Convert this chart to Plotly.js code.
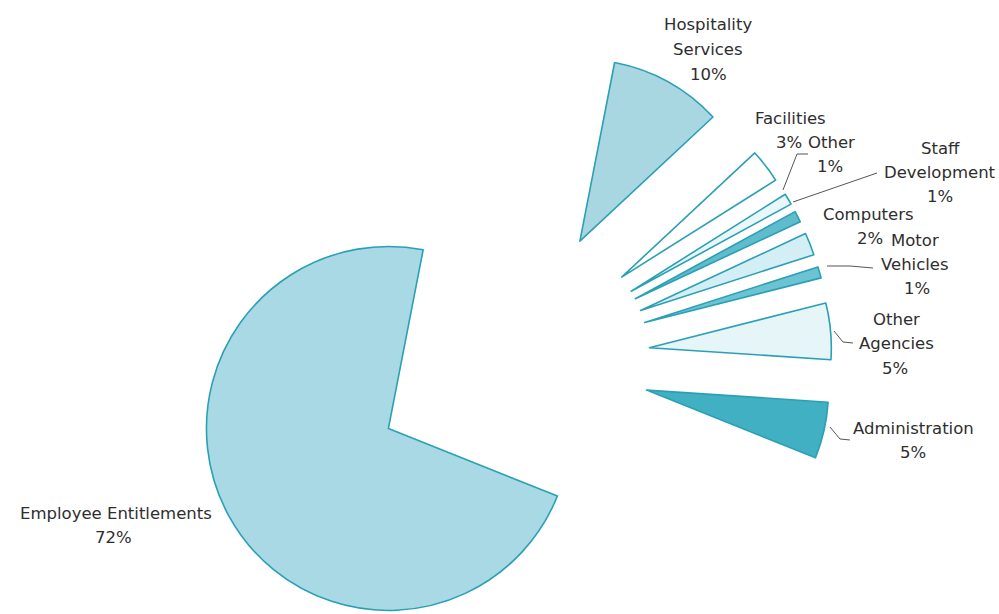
<!DOCTYPE html>
<html>
<head>
<meta charset="utf-8">
<script src="https://cdn.plot.ly/plotly-3.0.1.min.js"></script>
<style>
  html, body { margin: 0; padding: 0; background: #ffffff; overflow: hidden; }
  #frame { position: relative; width: 999px; height: 614px; overflow: hidden; background: #ffffff; }
  #chart { position: absolute; left: 0; top: 0; width: 999px; height: 700px; }
</style>
</head>
<body>
<div id="frame"><div id="chart"></div></div>
<script>
// ---- data (clockwise order, starting at Hospitality Services) ----
const categories = ['Hospitality Services', 'Facilities', 'Other', 'Staff Development',
                    'Computers', 'Motor Vehicles', 'Other Agencies', 'Administration',
                    'Employee Entitlements'];
const shares = [10, 3, 1, 1, 2, 1, 5, 5, 72];
const labelNames = [['Hospitality', 'Services'], ['Facilities'], ['Other'], ['Staff', 'Development'],
                    ['Computers'], ['Motor', 'Vehicles'], ['Other', 'Agencies'], ['Administration'],
                    ['Employee Entitlements']];

// ---- styles & positions ----
const sliceColors = ['#a9d7e1', '#ffffff', '#eaf7fa', '#5fbccc', '#d3eef4', '#6cc3d3',
                     '#e5f5f8', '#41b0c3', '#a8d9e5'];
const slicePull = [0.747, 0.747, 0.747, 0.747, 0.747, 0.747, 0.747, 0.747, 0.786];
const FIG_W = 999, FIG_H = 700;
const center = [514, 360], half = 325;            // pixel centre and half-size of pie box
// first line centre of each label (pixels), line step
const labelPos = [[708, 25], [790, 118], [831, 142], [940, 148], [868, 214], [915, 240],
                  [896, 319], [913, 428], [116, 513]];
const pctOffsetX = [0, -1, -1, 0, 2, 2, -1, 0, -3];
const lineStep = 24.5;

const px = x => x / FIG_W;
const py = y => 1 - y / FIG_H;

const annotations = [];
categories.forEach((c, i) => {
  const lines = labelNames[i].concat([shares[i] + '%']);
  lines.forEach((t, j) => {
    const isPct = j === lines.length - 1;
    annotations.push({
      xref: 'paper', yref: 'paper',
      x: px(labelPos[i][0] + (isPct ? pctOffsetX[i] : 0)),
      y: py(labelPos[i][1] + j * lineStep),
      text: t, showarrow: false, xanchor: 'center', yanchor: 'middle',
      font: {family: 'DejaVu Sans, Arial, sans-serif', size: 16.5, color: '#2e2e2e'}
    });
  });
});

// leader lines (pixel polylines)
const leaders = [
  [[808, 154], [797, 154], [783, 190]],
  [[877, 173], [793, 202]],
  [[873, 268], [850, 266], [827, 266]],
  [[853, 343], [843, 342], [834, 331]],
  [[850, 440], [840, 439], [830, 427]]
];
const shapes = leaders.map(pts => ({
  type: 'path', xref: 'paper', yref: 'paper',
  path: pts.map((p, k) => (k ? 'L' : 'M') + px(p[0]).toFixed(5) + ',' + py(p[1]).toFixed(5)).join(' '),
  line: {color: '#555555', width: 1}
}));

const trace = {
  type: 'pie',
  labels: categories,
  values: shares,
  sort: false,
  direction: 'clockwise',
  rotation: 11,
  pull: slicePull,
  textinfo: 'none',
  hoverinfo: 'label+percent',
  showlegend: false,
  marker: {colors: sliceColors, line: {color: '#2aa0b5', width: 1.6}},
  domain: {
    x: [px(center[0] - half), px(center[0] + half)],
    y: [py(center[1] + half), py(center[1] - half)]
  }
};

Plotly.newPlot('chart', [trace], {
  width: FIG_W, height: FIG_H,
  margin: {l: 0, r: 0, t: 0, b: 0},
  paper_bgcolor: '#ffffff',
  showlegend: false,
  annotations: annotations,
  shapes: shapes
}, {displayModeBar: false, staticPlot: true});
</script>
</body>
</html>
